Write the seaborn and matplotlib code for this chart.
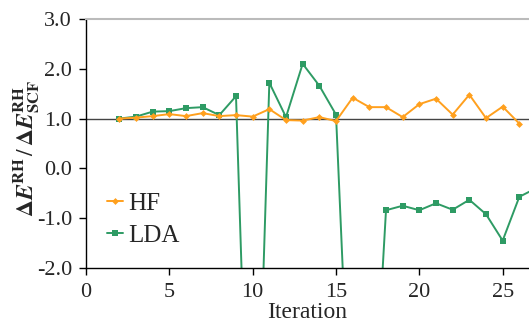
import matplotlib
matplotlib.use("Agg")
import matplotlib.pyplot as plt
import seaborn as sns
import numpy as np
import pandas as pd

iters_hf = [2, 3, 4, 5, 6, 7, 8, 9, 10, 11, 12, 13, 14, 15, 16, 17, 18, 19, 20, 21, 22, 23, 24, 25, 26]
hf = [1.00, 1.02, 1.05, 1.09, 1.05, 1.11, 1.05, 1.07, 1.04, 1.19, 0.97, 0.96, 1.03, 0.95, 1.42,
      1.23, 1.23, 1.03, 1.29, 1.40, 1.08, 1.48, 1.01, 1.24, 0.90]

iters_lda = [2, 3, 4, 5, 6, 7, 8, 9, 10, 11, 12, 13, 14, 15, 16, 17, 18, 19, 20, 21, 22, 23, 24, 25, 26, 27]
lda = [1.00, 1.04, 1.14, 1.15, 1.21, 1.23, 1.07, 1.45, -9.0, 1.72, 1.03, 2.10, 1.66, 1.08, -6.6,
       -6.7, -0.84, -0.75, -0.84, -0.70, -0.83, -0.63, -0.92, -1.45, -0.57, -0.40]

xticks = [0, 5, 10, 15, 20, 25]
yticks = [-2.0, -1.0, 0.0, 1.0, 2.0, 3.0]

sns.set_style("ticks")
plt.rcParams['font.family'] = 'serif'
plt.rcParams['font.serif'] = ['Liberation Serif', 'DejaVu Serif']
plt.rcParams['mathtext.fontset'] = 'stix'
plt.rcParams['axes.unicode_minus'] = False

fig = plt.figure(figsize=(5.29, 3.22), dpi=100)
ax = fig.add_axes([86/529, 1 - 268/322, (529 - 86)/529, 249/322])

df_hf = pd.DataFrame({"Iteration": iters_hf, "val": hf})
df_lda = pd.DataFrame({"Iteration": iters_lda, "val": lda})

ax.axhline(1.0, color="#444444", lw=1.0, zorder=1)
sns.lineplot(data=df_hf, x="Iteration", y="val", ax=ax, color="#FFA01E", marker="D",
             markersize=3.5, markeredgewidth=0, lw=1.4, label="HF", zorder=3)
sns.lineplot(data=df_lda, x="Iteration", y="val", ax=ax, color="#2E9B64", marker="s",
             markersize=4.5, markeredgewidth=0, lw=1.4, label="LDA", zorder=2)

ax.set_xlim(0, 26.58)
ax.set_ylim(-2.0, 3.0)
ax.set_xticks(xticks)
ax.set_yticks(yticks)
ax.set_yticklabels([f"{v:.1f}" for v in yticks])
ax.tick_params(axis="both", labelsize=16, direction="out", length=5, width=1, color="black")
ax.tick_params(axis="x", pad=6)
ax.tick_params(axis="y", pad=5)

for s in ["left", "bottom"]:
    ax.spines[s].set_color("black")
    ax.spines[s].set_linewidth(1.0)
ax.spines["top"].set_visible(True)
ax.spines["top"].set_color("#BBBBBB")
ax.spines["top"].set_linewidth(1.5)
ax.spines["right"].set_visible(False)

ax.set_xlabel("Iteration", fontsize=17, labelpad=0)
ax.set_ylabel(r"$\mathbf{\Delta}\mathbfit{E}^{\mathbf{RH}}\,/\,\mathbf{\Delta}\mathbfit{E}^{\mathbf{RH}}_{\mathbf{SCF}}$",
              fontsize=17, labelpad=0)
ax.yaxis.set_label_coords(-0.10, 0.48)

leg = ax.legend(loc="lower left", bbox_to_anchor=(0.035, 0.065), frameon=False, fontsize=18,
                handlelength=0.65, handletextpad=0.2, labelspacing=0.38, borderaxespad=0,
                borderpad=0.2)

fig.savefig("out.png", dpi=100)
